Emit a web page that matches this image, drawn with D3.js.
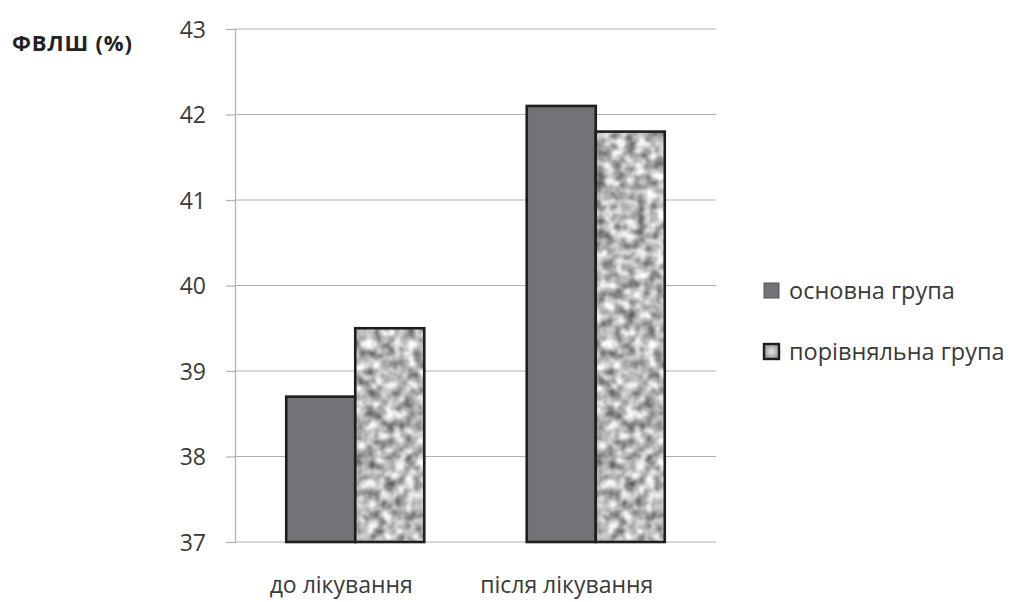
<!DOCTYPE html>
<html>
<head>
<meta charset="utf-8">
<script src="https://cdn.jsdelivr.net/npm/d3@7"></script>
<style>
  body { margin: 0; background: #fff; }
  svg { display: block; }
</style>
</head>
<body>
<svg id="chart" width="1021" height="602"></svg>
<script>
// Chart data
const categories = ["до лікування", "після лікування"];
const seriesNames = ["основна група", "порівняльна група"];
const mainGroup = [38.7, 42.1];
const comparisonGroup = [39.5, 41.8];
const yTicks = [37, 38, 39, 40, 41, 42, 43];
const yTitle = "ФВЛШ (%)";

const svg = d3.select("#chart");
const font = "Open Sans, Lato, sans-serif";
const textColor = "#3a3a3a";

const plot = { left: 235, right: 716, top: 29, bottom: 542 };

// Granite-like texture for the comparison series
const defs = svg.append("defs");
const f = defs.append("filter").attr("id", "granite")
  .attr("color-interpolation-filters", "sRGB")
  .attr("x", 0).attr("y", 0).attr("width", 1).attr("height", 1);
f.append("feTurbulence").attr("type", "fractalNoise")
  .attr("baseFrequency", 0.1).attr("numOctaves", 3).attr("seed", 11).attr("result", "noise");
f.append("feColorMatrix").attr("in", "noise").attr("type", "matrix")
  .attr("values", "1.1 0 0 0 0.17  1.1 0 0 0 0.17  1.1 0 0 0 0.17  0 0 0 0 1")
  .attr("result", "gray");
f.append("feGaussianBlur").attr("in", "gray").attr("stdDeviation", 0.8).attr("result", "soft");
f.append("feComposite").attr("in", "soft").attr("in2", "SourceGraphic").attr("operator", "in");

const lg = defs.append("radialGradient").attr("id", "legendFill");
lg.append("stop").attr("offset", "0%").attr("stop-color", "#e8e8e8");
lg.append("stop").attr("offset", "100%").attr("stop-color", "#9a9a9a");

const y = d3.scaleLinear().domain([37, 43]).range([plot.bottom, plot.top]);
const x0 = d3.scaleBand().domain(categories).range([plot.left, plot.right]).padding(0);
const groupW = x0.bandwidth() * 0.574;
const x1 = d3.scaleBand().domain(seriesNames)
  .range([(x0.bandwidth() - groupW) / 2, (x0.bandwidth() + groupW) / 2]).padding(0);

// Gridlines
svg.append("g").selectAll("line").data(yTicks).join("line")
  .attr("x1", plot.left).attr("x2", plot.right)
  .attr("y1", d => y(d)).attr("y2", d => y(d))
  .attr("stroke", "#b0b0b0").attr("stroke-width", 1.2);

// Y axis
const yAxis = svg.append("g").attr("transform", `translate(${plot.left},0)`)
  .call(d3.axisLeft(y).tickValues(yTicks).tickSize(9).tickPadding(20).tickFormat(d3.format("d")));
yAxis.select(".domain").attr("stroke", "#b0b0b0").attr("stroke-width", 1.2);
yAxis.selectAll(".tick line").attr("stroke", "#b0b0b0").attr("stroke-width", 1.2);
yAxis.selectAll(".tick text").attr("font-family", font).attr("font-size", 23)
  .attr("fill", textColor).attr("dy", "0.35em");

// Bars
const rows = categories.map((c, i) => ({ cat: c, vals: [mainGroup[i], comparisonGroup[i]] }));
const groups = svg.append("g").selectAll("g").data(rows).join("g")
  .attr("transform", d => `translate(${x0(d.cat)},0)`);

groups.each(function(d) {
  const g = d3.select(this);
  seriesNames.forEach((s, j) => {
    const v = d.vals[j];
    const bx = x1(s), bw = x1.bandwidth();
    if (j === 0) {
      g.append("rect").attr("x", bx).attr("y", y(v)).attr("width", bw).attr("height", y(37) - y(v))
        .attr("fill", "#717377");
    } else {
      g.append("rect").attr("x", bx).attr("y", y(v)).attr("width", bw).attr("height", y(37) - y(v))
        .attr("fill", "#fff").attr("filter", "url(#granite)");
    }
    g.append("rect").attr("x", bx).attr("y", y(v)).attr("width", bw).attr("height", y(37) - y(v))
      .attr("fill", "none").attr("stroke", "#1e1e1e").attr("stroke-width", 2.6);
  });
});

// Category labels (set slightly left of the group centres)
const labelShift = [-14, -29];
svg.append("g").selectAll("text").data(categories).join("text")
  .attr("x", (d, i) => x0(d) + x0.bandwidth() / 2 + labelShift[i]).attr("y", 593)
  .attr("text-anchor", "middle").attr("font-family", font).attr("font-size", 23)
  .attr("fill", textColor).text(d => d);

// Y title
svg.append("text").attr("x", 12).attr("y", 51)
  .attr("font-family", font).attr("font-size", 22).attr("font-weight", "bold")
  .attr("letter-spacing", 0.8).attr("fill", "#222").text(yTitle);

// Legend
const legend = svg.append("g").selectAll("g").data(seriesNames).join("g")
  .attr("transform", (d, i) => `translate(764,${283 + i * 61})`);
legend.append("rect").attr("width", 15).attr("height", 15)
  .attr("fill", (d, i) => i === 0 ? "#717377" : "url(#legendFill)")
  .attr("stroke", (d, i) => i === 0 ? "#555" : "#1e1e1e")
  .attr("stroke-width", (d, i) => i === 0 ? 1 : 2.4);
legend.append("text").attr("x", 25).attr("y", 8).attr("dy", "0.35em")
  .attr("font-family", font).attr("font-size", 23.5).attr("fill", textColor).text(d => d);
</script>
</body>
</html>
